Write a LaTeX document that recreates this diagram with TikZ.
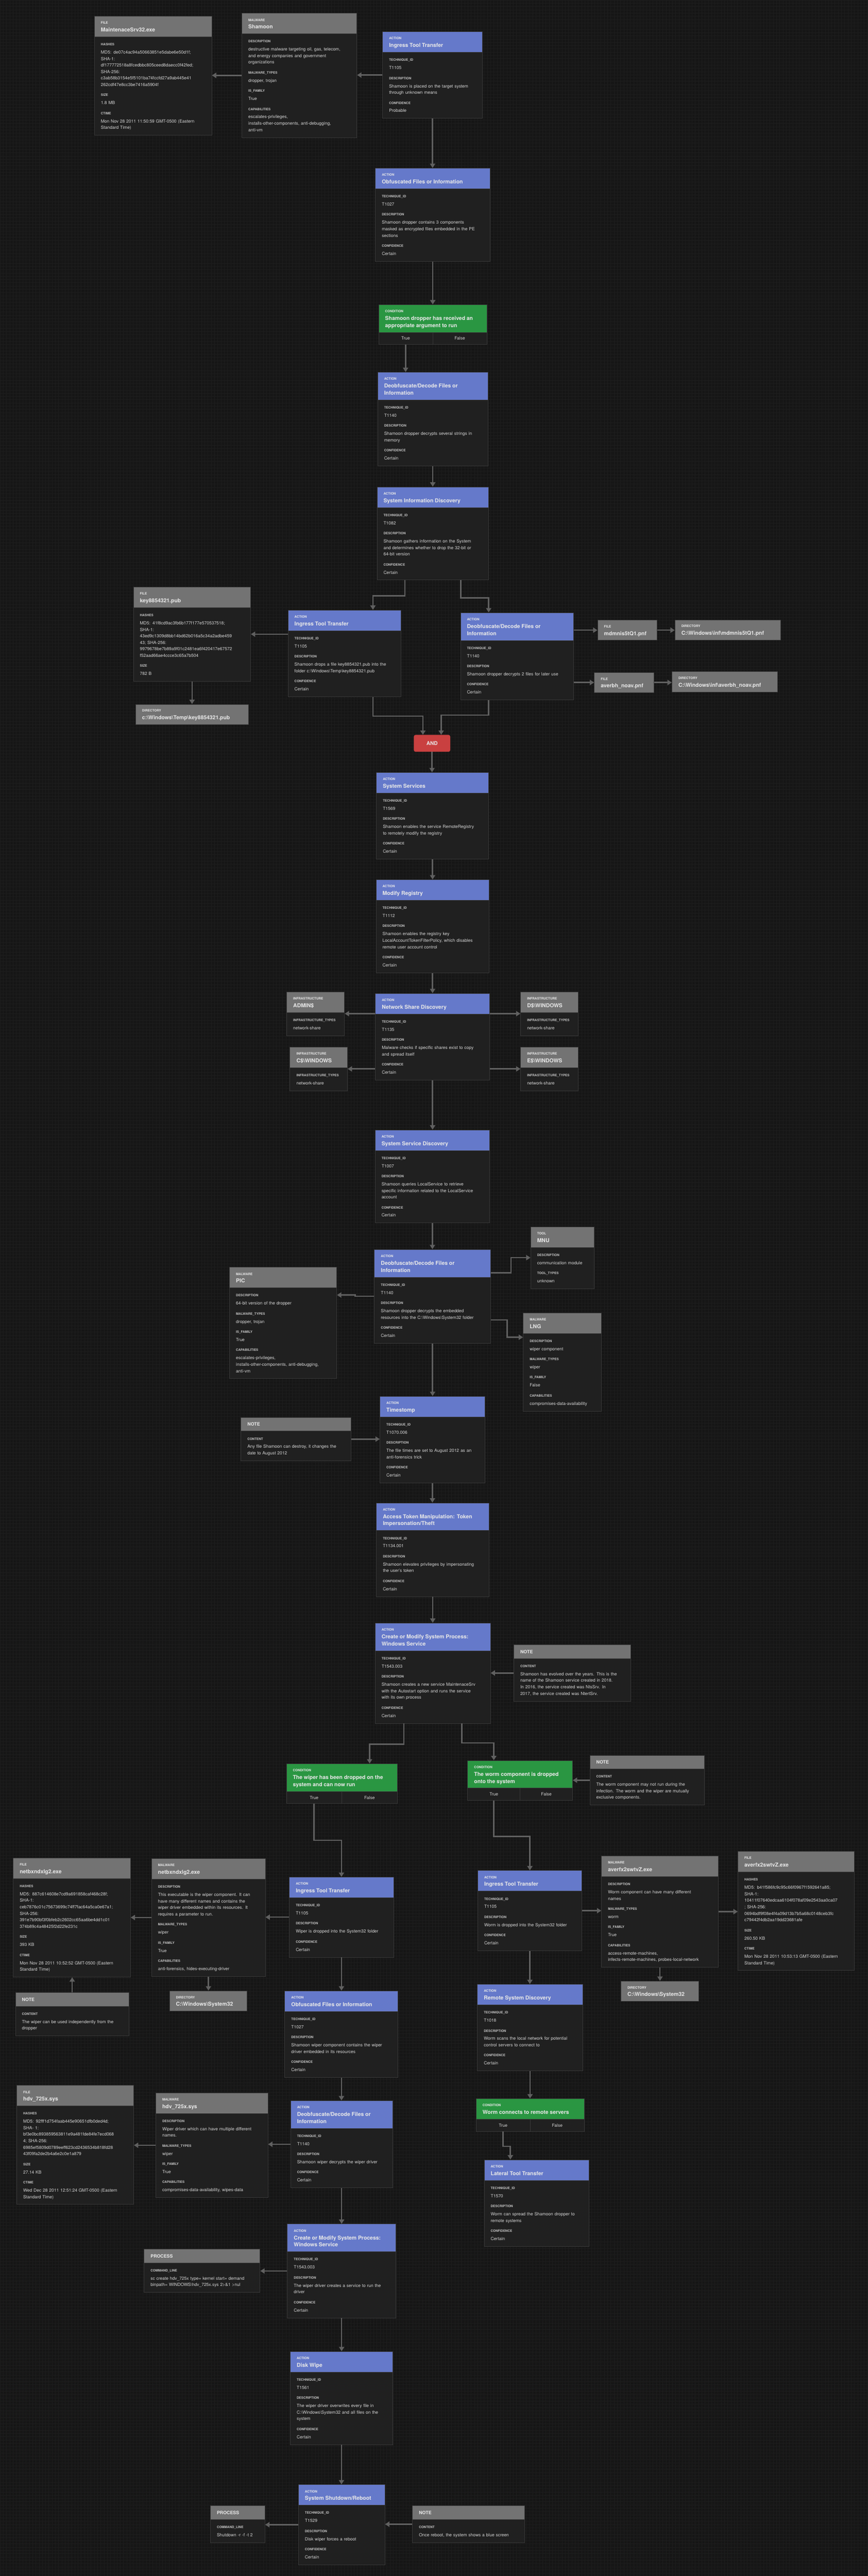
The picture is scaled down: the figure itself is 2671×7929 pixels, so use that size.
\documentclass[tikz,border=0pt]{standalone}
\usepackage{fontspec}
\setmainfont{TeX Gyre Heros}
\usetikzlibrary{shapes.multipart,arrows.meta,calc}

\setlength{\parindent}{0pt}
\setlength{\parskip}{0pt}

\definecolor{bgc}{RGB}{22,22,22}
\definecolor{gridc}{RGB}{29,29,29}
\definecolor{bodyc}{RGB}{32,32,32}
\definecolor{edgec}{RGB}{56,56,56}
\definecolor{actc}{RGB}{101,121,202}
\definecolor{gryc}{RGB}{115,115,115}
\definecolor{grnc}{RGB}{42,150,66}
\definecolor{redc}{RGB}{201,64,64}
\definecolor{connc}{RGB}{96,96,96}
\definecolor{hdtc}{RGB}{232,232,232}
\definecolor{lblc}{RGB}{196,196,196}
\definecolor{valc}{RGB}{212,212,212}

\newcommand{\bsl}{\textbackslash}
\newcommand{\typ}[1]{{\noindent\fontsize{7.5}{9}\selectfont\bfseries\rule{0pt}{9.55pt}#1\par}}
\newcommand{\ttl}[1]{\vspace{1pt}{\noindent\fontsize{12.4}{16.5}\selectfont\bfseries #1\rule[-3pt]{0pt}{0pt}\par}}
\newcommand{\ntl}[1]{{\noindent\fontsize{10.5}{12}\selectfont\bfseries\rule[-3pt]{0pt}{14.25pt}#1\par}}
\newcommand{\lbl}[1]{{\noindent\fontsize{7.5}{23.1}\selectfont\bfseries\color{lblc}\rule{0pt}{11.75pt}#1\par}}
\newcommand{\val}[1]{\vspace{3.9pt}{\noindent\fontsize{10.1}{15}\selectfont\color{valc}#1\rule[-5.35pt]{0pt}{0pt}\par}}
\newcommand{\tf}{{\noindent\fontsize{10.1}{15}\selectfont\color{valc}\rule[-1.65pt]{0pt}{10.55pt}\hspace*{-15pt}\makebox[\dimexpr0.5\hsize+15pt\relax]{True}\makebox[\dimexpr0.5\hsize+15pt\relax]{False}\par}}

\begin{document}
\begin{tikzpicture}[x=0.75pt,y=0.75pt,yscale=-1,
card/.style={rectangle split, rectangle split parts=2, draw=edgec, line width=1pt, text=hdtc, align=left, anchor=north west, inner xsep=15pt, inner ysep=8.25pt, text width=#1},
actcard/.style={card=#1, rectangle split part fill={actc,bodyc}},
grycard/.style={card=#1, rectangle split part fill={gryc,bodyc}},
cndcard/.style={card=#1, rectangle split part fill={grnc,bodyc}},
tagcard/.style={draw=edgec, line width=1pt, fill=gryc, text=hdtc, align=left, anchor=north west, inner xsep=15pt, inner ysep=8.25pt, text width=#1},
andbox/.style={fill=redc, rounded corners=4pt, minimum width=84pt, minimum height=39pt, text=hdtc, font=\fontsize{12}{14}\selectfont\bfseries},
conn/.style={draw=connc, line width=3pt, -{Triangle[length=10pt,width=12pt]}},
divline/.style={draw=edgec, line width=1pt}]
\useasboundingbox (0,0) rectangle (2671,7929);
%Shape: Background
\fill[bgc] (0,0) rectangle (2671,7929);
\draw[gridc, line width=0.4pt, step=7.5pt] (0,7929) grid (2671,0);

%Shape: Dropper
\node[grycard=240.75pt] (fileA) at (290,49) {\typ{FILE}\ttl{MaintenaceSrv32.exe}
\nodepart{two}\lbl{HASHES}\val{MD5: de07c4ac94a50663851e5dabe6e50d1f;\\SHA-1:\\df177772518a8fcedbbc805ceed8daecc0f42fed;\\SHA-256:\\c3ab58b3154e5f5101ba74fccfd27a9ab445e41\\262cdf47e8cc3be7416a5904f}\lbl{SIZE}\val{1.8 MB}\lbl{CTIME}\val{Mon Nov 28 2011 11:50:59 GMT-0500 (Eastern\\Standard Time)}};
\node[grycard=235.5pt] (malA) at (744,40) {\typ{MALWARE}\ttl{Shamoon}
\nodepart{two}\lbl{DESCRIPTION}\val{destructive malware targeting oil, gas, telecom,\\and energy companies and government\\organizations}\lbl{MALWARE\_TYPES}\val{dropper, trojan}\lbl{IS\_FAMILY}\val{True}\lbl{CAPABILITIES}\val{escalates-privileges,\\installs-other-components, anti-debugging,\\anti-vm}};
\node[actcard=201pt] (ingA) at (1177,97) {\typ{ACTION}\ttl{Ingress Tool Transfer}
\nodepart{two}\lbl{TECHNIQUE\_ID}\val{T1105}\lbl{DESCRIPTION}\val{Shamoon is placed on the target system\\through unknown means}\lbl{CONFIDENCE}\val{Probable}};
\node[actcard=234.75pt] (obfA) at (1155,517) {\typ{ACTION}\ttl{Obfuscated Files or Information}
\nodepart{two}\lbl{TECHNIQUE\_ID}\val{T1027}\lbl{DESCRIPTION}\val{Shamoon dropper contains 3 components\\masked as encrypted files embedded in the PE\\sections}\lbl{CONFIDENCE}\val{Certain}};
\node[cndcard=219.75pt] (condA) at (1165,937) {\typ{CONDITION}\ttl{Shamoon dropper has received an\\appropriate argument to run}
\nodepart{two}\tf};
\node[actcard=224.25pt] (deobA) at (1162,1145) {\typ{ACTION}\ttl{Deobfuscate/Decode Files or\\Information}
\nodepart{two}\lbl{TECHNIQUE\_ID}\val{T1140}\lbl{DESCRIPTION}\val{Shamoon dropper decrypts several strings in\\memory}\lbl{CONFIDENCE}\val{Certain}};
\node[actcard=227.25pt] (sinfo) at (1160,1498) {\typ{ACTION}\ttl{System Information Discovery}
\nodepart{two}\lbl{TECHNIQUE\_ID}\val{T1082}\lbl{DESCRIPTION}\val{Shamoon gathers information on the System\\and determines whether to drop the 32-bit or\\64-bit version}\lbl{CONFIDENCE}\val{Certain}};

%Shape: Dropped files
\node[grycard=240.75pt] (keyF) at (410,1806) {\typ{FILE}\ttl{key8854321.pub}
\nodepart{two}\lbl{HASHES}\val{MD5: 41f8cd9ac3fb6b177f177e570537518;\\SHA-1:\\43ed9c1309d8bb14bd62b016a5c34a2adbe459\\43; SHA-256:\\9979678be7b89a9f01c2481ea6f420417e67572\\f52aad66ae4ccce3c65a7b504}\lbl{SIZE}\val{782 B}};
\node[tagcard=231pt] (keyD) at (417,2167) {\typ{DIRECTORY}\ttl{c:\bsl{}Windows\bsl{}Temp\bsl{}key8854321.pub}};
\node[actcard=231pt] (ingB) at (886,1877) {\typ{ACTION}\ttl{Ingress Tool Transfer}
\nodepart{two}\lbl{TECHNIQUE\_ID}\val{T1105}\lbl{DESCRIPTION}\val{Shamoon drops a file key8854321.pub into the\\folder c:\bsl{}Windows\bsl{}Temp\bsl{}key8854321.pub}\lbl{CONFIDENCE}\val{Certain}};
\node[actcard=231pt] (deobB) at (1417,1885) {\typ{ACTION}\ttl{Deobfuscate/Decode Files or\\Information}
\nodepart{two}\lbl{TECHNIQUE\_ID}\val{T1140}\lbl{DESCRIPTION}\val{Shamoon dropper decrypts 2 files for later use}\lbl{CONFIDENCE}\val{Certain}};
\node[tagcard=107.25pt] (pnfA) at (1839,1908) {\typ{FILE}\ttl{mdmnis5tQ1.pnf}};
\node[tagcard=214.5pt] (pnfAd) at (2077,1907) {\typ{DIRECTORY}\ttl{C:\bsl{}Windows\bsl{}inf\bsl{}mdmnis5tQ1.pnf}};
\node[tagcard=108pt] (pnfB) at (1829,2069) {\typ{FILE}\ttl{averbh\_noav.pnf}};
\node[tagcard=213.75pt] (pnfBd) at (2068,2067) {\typ{DIRECTORY}\ttl{C:\bsl{}Windows\bsl{}inf\bsl{}averbh\_noav.pnf}};
\node[andbox] (andA) at (1330,2288) {AND};

%Shape: Services and shares
\node[actcard=229.5pt] (ssvc) at (1158,2377) {\typ{ACTION}\ttl{System Services}
\nodepart{two}\lbl{TECHNIQUE\_ID}\val{T1569}\lbl{DESCRIPTION}\val{Shamoon enables the service RemoteRegistry\\to remotely modify the registry}\lbl{CONFIDENCE}\val{Certain}};
\node[actcard=231pt] (mreg) at (1157,2707) {\typ{ACTION}\ttl{Modify Registry}
\nodepart{two}\lbl{TECHNIQUE\_ID}\val{T1112}\lbl{DESCRIPTION}\val{Shamoon enables the registry key\\LocalAccountTokenFilterPolicy, which disables\\remote user account control}\lbl{CONFIDENCE}\val{Certain}};
\node[actcard=234pt] (nsd) at (1155,3057) {\typ{ACTION}\ttl{Network Share Discovery}
\nodepart{two}\lbl{TECHNIQUE\_ID}\val{T1135}\lbl{DESCRIPTION}\val{Malware checks if specific shares exist to copy\\and spread itself}\lbl{CONFIDENCE}\val{Certain}};
\node[grycard=103.5pt] (infA) at (882,3052) {\typ{INFRASTRUCTURE}\ttl{ADMIN\$}
\nodepart{two}\lbl{INFRASTRUCTURE\_TYPES}\val{network-share}};
\node[grycard=102.75pt] (infC) at (892,3222) {\typ{INFRASTRUCTURE}\ttl{C\$\bsl{}WINDOWS}
\nodepart{two}\lbl{INFRASTRUCTURE\_TYPES}\val{network-share}};
\node[grycard=103.5pt] (infD) at (1602,3052) {\typ{INFRASTRUCTURE}\ttl{D\$\bsl{}WINDOWS}
\nodepart{two}\lbl{INFRASTRUCTURE\_TYPES}\val{network-share}};
\node[grycard=103.5pt] (infE) at (1602,3222) {\typ{INFRASTRUCTURE}\ttl{E\$\bsl{}WINDOWS}
\nodepart{two}\lbl{INFRASTRUCTURE\_TYPES}\val{network-share}};

%Shape: Resources
\node[actcard=234.75pt] (ssd) at (1154,3477) {\typ{ACTION}\ttl{System Service Discovery}
\nodepart{two}\lbl{TECHNIQUE\_ID}\val{T1007}\lbl{DESCRIPTION}\val{Shamoon queries LocalService to retrieve\\specific information related to the LocalService\\account}\lbl{CONFIDENCE}\val{Certain}};
\node[actcard=238.5pt] (deobC) at (1152,3845) {\typ{ACTION}\ttl{Deobfuscate/Decode Files or\\Information}
\nodepart{two}\lbl{TECHNIQUE\_ID}\val{T1140}\lbl{DESCRIPTION}\val{Shamoon dropper decrypts the embedded\\resources into the C:\bsl{}Windows\bsl{}System32 folder}\lbl{CONFIDENCE}\val{Certain}};
\node[grycard=116.25pt] (toolM) at (1633,3775) {\typ{TOOL}\ttl{MNU}
\nodepart{two}\lbl{DESCRIPTION}\val{\mbox{communication module}}\lbl{TOOL\_TYPES}\val{unknown}};
\node[grycard=217.5pt] (malP) at (706,3900) {\typ{MALWARE}\ttl{PIC}
\nodepart{two}\lbl{DESCRIPTION}\val{64-bit version of the dropper}\lbl{MALWARE\_TYPES}\val{dropper, trojan}\lbl{IS\_FAMILY}\val{True}\lbl{CAPABILITIES}\val{escalates-privileges,\\installs-other-components, anti-debugging,\\anti-vm}};
\node[grycard=150.75pt] (malL) at (1610,4040) {\typ{MALWARE}\ttl{LNG}
\nodepart{two}\lbl{DESCRIPTION}\val{wiper component}\lbl{MALWARE\_TYPES}\val{wiper}\lbl{IS\_FAMILY}\val{False}\lbl{CAPABILITIES}\val{\mbox{compromises-data-availability}}};
\node[grycard=224.25pt] (noteA) at (741,4362) {\ntl{NOTE}
\nodepart{two}\lbl{CONTENT}\val{Any file Shamoon can destroy, it changes the\\date to August 2012}};
\node[actcard=212.25pt] (tstomp) at (1169,4297) {\typ{ACTION}\ttl{Timestomp}
\nodepart{two}\lbl{TECHNIQUE\_ID}\val{T1070.006}\lbl{DESCRIPTION}\val{The file times are set to August 2012 as an\\anti-forensics trick}\lbl{CONFIDENCE}\val{Certain}};
\node[actcard=230.25pt] (atok) at (1158,4625) {\typ{ACTION}\ttl{Access Token Manipulation: Token\\Impersonation/Theft}
\nodepart{two}\lbl{TECHNIQUE\_ID}\val{T1134.001}\lbl{DESCRIPTION}\val{Shamoon elevates privileges by impersonating\\the user's token}\lbl{CONFIDENCE}\val{Certain}};
\node[actcard=236.25pt] (cmodA) at (1154,4995) {\typ{ACTION}\ttl{Create or Modify System Process:\\Windows Service}
\nodepart{two}\lbl{TECHNIQUE\_ID}\val{T1543.003}\lbl{DESCRIPTION}\val{Shamoon creates a new service MaintenaceSrv\\with the Autostart option and runs the service\\with its own process}\lbl{CONFIDENCE}\val{Certain}};
\node[grycard=240pt] (noteB) at (1581,5062) {\ntl{NOTE}
\nodepart{two}\lbl{CONTENT}\val{Shamoon has evolved over the years. This is the\\name of the Shamoon service created in 2018.\\In 2016, the service created was NtsSrv. In\\2017, the service created was NtertSrv.}};

%Shape: Branches
\node[cndcard=225.75pt] (condW) at (881,5428) {\typ{CONDITION}\ttl{The wiper has been dropped on the\\system and can now run}
\nodepart{two}\tf};
\node[cndcard=212.25pt] (condM) at (1439,5418) {\typ{CONDITION}\ttl{The worm component is dropped\\onto the system}
\nodepart{two}\tf};
\node[grycard=234pt] (noteC) at (1815,5402) {\ntl{NOTE}
\nodepart{two}\lbl{CONTENT}\val{The worm component may not run during the\\infection. The worm and the wiper are mutually\\exclusive components.}};

%Shape: Wiper
\node[grycard=240.75pt] (fileN) at (40,5718) {\typ{FILE}\ttl{netbxndxlg2.exe}
\nodepart{two}\lbl{HASHES}\val{MD5: 887c614608e7cd9a691858caf468c28f;\\SHA-1:\\ceb7876c01c75673699c74ff7fac64a5ca0e67a1;\\SHA-256:\\391e7b90bf3f0bfeb2c2602cc65aa6be4dd1c01\\374b89c4a48425f2d22fe231c}\lbl{SIZE}\val{393 KB}\lbl{CTIME}\val{Mon Nov 28 2011 10:52:52 GMT-0500 (Eastern\\Standard Time)}};
\node[grycard=232.5pt] (malN) at (466,5720) {\typ{MALWARE}\ttl{netbxndxlg2.exe}
\nodepart{two}\lbl{DESCRIPTION}\val{This executable is the wiper component. It can\\have many different names and contains the\\wiper driver embedded within its resources. It\\requires a parameter to run.}\lbl{MALWARE\_TYPES}\val{wiper}\lbl{IS\_FAMILY}\val{True}\lbl{CAPABILITIES}\val{anti-forensics, hides-executing-driver}};
\node[actcard=210.75pt] (ingC) at (890,5777) {\typ{ACTION}\ttl{Ingress Tool Transfer}
\nodepart{two}\lbl{TECHNIQUE\_ID}\val{T1105}\lbl{DESCRIPTION}\val{Wiper is dropped into the System32 folder}\lbl{CONFIDENCE}\val{Certain}};
\node[grycard=231.75pt] (noteD) at (47,6132) {\ntl{NOTE}
\nodepart{two}\lbl{CONTENT}\val{The wiper can be used independently from the\\dropper}};
\node[tagcard=149.25pt] (dirN) at (521,6127) {\typ{DIRECTORY}\ttl{C:\bsl{}Windows\bsl{}System32}};
\node[actcard=231.75pt] (obfB) at (876,6127) {\typ{ACTION}\ttl{Obfuscated Files or Information}
\nodepart{two}\lbl{TECHNIQUE\_ID}\val{T1027}\lbl{DESCRIPTION}\val{Shamoon wiper component contains the wiper\\driver embedded in its resources}\lbl{CONFIDENCE}\val{Certain}};
\node[grycard=240pt] (fileH) at (51,6418) {\typ{FILE}\ttl{hdv\_725x.sys}
\nodepart{two}\lbl{HASHES}\val{MD5: 92fff1d754faab445e90651dfb0ded4d;\\SHA- 1:\\bf3e0bc893859563811e9a481fde84fe7ecd068\\4; SHA-256:\\6985ef5809d0789eeff623cd2436534b818fd28\\43f09fa2de2b4a6e2c0e1a879}\lbl{SIZE}\val{27.14 KB}\lbl{CTIME}\val{Wed Dec 28 2011 12:51:24 GMT-0500 (Eastern\\Standard Time)}};
\node[grycard=228.75pt] (malH) at (479,6441) {\typ{MALWARE}\ttl{hdv\_725x.sys}
\nodepart{two}\lbl{DESCRIPTION}\val{Wiper driver which can have multiple different\\names.}\lbl{MALWARE\_TYPES}\val{wiper}\lbl{IS\_FAMILY}\val{True}\lbl{CAPABILITIES}\val{compromises-data-availability, wipes-data}};
\node[actcard=205.5pt] (deobD) at (894,6465) {\typ{ACTION}\ttl{Deobfuscate/Decode Files or\\Information}
\nodepart{two}\lbl{TECHNIQUE\_ID}\val{T1140}\lbl{DESCRIPTION}\val{Shamoon wiper decrypts the wiper driver}\lbl{CONFIDENCE}\val{Certain}};
\node[actcard=220.5pt] (cmodB) at (884,6845) {\typ{ACTION}\ttl{Create or Modify System Process:\\Windows Service}
\nodepart{two}\lbl{TECHNIQUE\_ID}\val{T1543.003}\lbl{DESCRIPTION}\val{The wiper driver creates a service to run the\\driver}\lbl{CONFIDENCE}\val{Certain}};
\node[grycard=237.75pt] (procA) at (443,6922) {\ntl{PROCESS}
\nodepart{two}\lbl{COMMAND\_LINE}\val{sc create hdv\_725x type= kernel start= demand\\binpath= WINDOWS\bsl{}hdv\_725x.sys 2>\&1 >nul}};
\node[actcard=206.25pt] (dwipe) at (893,7237) {\typ{ACTION}\ttl{Disk Wipe}
\nodepart{two}\lbl{TECHNIQUE\_ID}\val{T1561}\lbl{DESCRIPTION}\val{The wiper driver overwrites every file in\\C:\bsl{}Windows\bsl{}System32 and all files on the\\system}\lbl{CONFIDENCE}\val{Certain}};
\node[actcard=169.5pt] (shut) at (918,7647) {\typ{ACTION}\ttl{System Shutdown/Reboot}
\nodepart{two}\lbl{TECHNIQUE\_ID}\val{T1529}\lbl{DESCRIPTION}\val{Disk wiper forces a reboot}\lbl{CONFIDENCE}\val{Certain}};
\node[grycard=96pt] (procB) at (647,7712) {\ntl{PROCESS}
\nodepart{two}\lbl{COMMAND\_LINE}\val{\mbox{Shutdown -r -f -t 2}}};
\node[grycard=228.75pt] (noteE) at (1269,7712) {\ntl{NOTE}
\nodepart{two}\lbl{CONTENT}\val{Once reboot, the system shows a blue screen}};

%Shape: Worm
\node[actcard=210.75pt] (ingD) at (1470,5757) {\typ{ACTION}\ttl{Ingress Tool Transfer}
\nodepart{two}\lbl{TECHNIQUE\_ID}\val{T1105}\lbl{DESCRIPTION}\val{Worm is dropped into the System32 folder}\lbl{CONFIDENCE}\val{Certain}};
\node[grycard=240pt] (malW) at (1851,5712) {\typ{MALWARE}\ttl{averfx2swtvZ.exe}
\nodepart{two}\lbl{DESCRIPTION}\val{Worm component can have many different\\names}\lbl{MALWARE\_TYPES}\val{worm}\lbl{IS\_FAMILY}\val{True}\lbl{CAPABILITIES}\val{access-remote-machines,\\infects-remote-machines, probes-local-network}};
\node[grycard=239.25pt] (fileW) at (2271,5698) {\typ{FILE}\ttl{averfx2swtvZ.exe}
\nodepart{two}\lbl{HASHES}\val{MD5: b41f586fc9c95c66f0967f1592641a85;\\SHA-1:\\10411f07640edcaa6104f078af09e2543aa0ca07\\; SHA-256:\\0694bdf9f08e4f4a09d13b7b5a68c0148ceb3fc\\c79442f4db2aa19dd23681afe}\lbl{SIZE}\val{260.50 KB}\lbl{CTIME}\val{Mon Nov 28 2011 10:53:13 GMT-0500 (Eastern\\Standard Time)}};
\node[tagcard=150pt] (dirW) at (1911,6097) {\typ{DIRECTORY}\ttl{C:\bsl{}Windows\bsl{}System32}};
\node[actcard=213pt] (rsd) at (1469,6107) {\typ{ACTION}\ttl{Remote System Discovery}
\nodepart{two}\lbl{TECHNIQUE\_ID}\val{T1018}\lbl{DESCRIPTION}\val{Worm scans the local network for potential\\control servers to connect to}\lbl{CONFIDENCE}\val{Certain}};
\node[cndcard=219.75pt] (condR) at (1465,6459) {\typ{CONDITION}\ttl{Worm connects to remote servers}
\nodepart{two}\tf};
\node[actcard=212.25pt] (ltt) at (1490,6647) {\typ{ACTION}\ttl{Lateral Tool Transfer}
\nodepart{two}\lbl{TECHNIQUE\_ID}\val{T1570}\lbl{DESCRIPTION}\val{Worm can spread the Shamoon dropper to\\remote systems}\lbl{CONFIDENCE}\val{Certain}};

%Straight Lines: True | False dividers
\draw[divline] (condA.one split) -- (condA.south);
\draw[divline] (condW.one split) -- (condW.south);
\draw[divline] (condM.one split) -- (condM.south);
\draw[divline] (condR.one split) -- (condR.south);

\coordinate (cAt) at ($(condA.south west)!.25!(condA.south east)$);
\coordinate (cWt) at ($(condW.south west)!.25!(condW.south east)$);
\coordinate (cMt) at ($(condM.south west)!.25!(condM.south east)$);
\coordinate (cRt) at ($(condR.south west)!.25!(condR.south east)$);

%Straight Lines: dropper
\draw[conn] (ingA.west) -- (ingA.west -| malA.east);
\draw[conn] (malA.west) -- (malA.west -| fileA.east);
\draw[conn] (ingA.south) -- (ingA.south |- obfA.north);
\draw[conn] (obfA.south) -- (obfA.south |- condA.north);
\draw[conn] (cAt) -- (cAt |- deobA.north);
\draw[conn] (deobA.south) -- (deobA.south |- sinfo.north);
\draw[conn] ($(sinfo.south west)!.25!(sinfo.south east)$) -- ++(0,48) -| ($(ingB.north west)!.75!(ingB.north east)$);
\draw[conn] ($(sinfo.south west)!.75!(sinfo.south east)$) -- ++(0,54) -| ($(deobB.north west)!.25!(deobB.north east)$);
\draw[conn] (ingB.west |- keyF.east) -- (keyF.east);
\draw[conn] (keyF.south) -- (keyF.south |- keyD.north);
\draw[conn] (deobB.east |- pnfA.west) -- (pnfA.west);
\draw[conn] (pnfA.east) -- (pnfA.east -| pnfAd.west);
\draw[conn] (deobB.east |- pnfB.west) -- (pnfB.west);
\draw[conn] (pnfB.east) -- (pnfB.east -| pnfBd.west);
\draw[conn] ($(ingB.south west)!.75!(ingB.south east)$) -- ++(0,59) -| ($(andA.north west)!.25!(andA.north east)$);
\draw[conn] ($(deobB.south west)!.25!(deobB.south east)$) -- ++(0,46) -| ($(andA.north west)!.75!(andA.north east)$);
\draw[conn] (andA.south) -- (andA.south |- ssvc.north);
\draw[conn] (ssvc.south) -- (ssvc.south |- mreg.north);
\draw[conn] (mreg.south) -- (mreg.south |- nsd.north);
\draw[conn] (nsd.west |- infA.east) -- (infA.east);
\draw[conn] (nsd.west |- infC.east) -- (infC.east);
\draw[conn] (nsd.east |- infD.west) -- (infD.west);
\draw[conn] (nsd.east |- infE.west) -- (infE.west);
\draw[conn] (nsd.south) -- (nsd.south |- ssd.north);
\draw[conn] (ssd.south) -- (ssd.south |- deobC.north);
\draw[conn] ($(deobC.north east)!.25!(deobC.south east)$) -- ++(62,0) |- (toolM.west);
\draw[conn] (deobC.west) -- ++(-59,0) |- ($(malP.north east)!.25!(malP.south east)$);
\draw[conn] ($(deobC.north east)!.75!(deobC.south east)$) -- ++(50,0) |- ($(malL.north west)!.25!(malL.south west)$);
\draw[conn] (deobC.south) -- (deobC.south |- tstomp.north);
\draw[conn] (noteA.east) -- (noteA.east -| tstomp.west);
\draw[conn] (tstomp.south) -- (tstomp.south |- atok.north);
\draw[conn] (atok.south) -- (atok.south |- cmodA.north);
\draw[conn] (noteB.west) -- (noteB.west -| cmodA.east);
\draw[conn] ($(cmodA.south west)!.25!(cmodA.south east)$) -- ++(0,64) -| ($(condW.north west)!.75!(condW.north east)$);
\draw[conn] ($(cmodA.south west)!.75!(cmodA.south east)$) -- ++(0,60) -| ($(condM.north west)!.25!(condM.north east)$);
\draw[conn] (noteC.west) -- (noteC.west -| condM.east);

%Straight Lines: wiper
\draw[conn] (cWt) -- ++(0,112) -| (ingC.north);
\draw[conn] (ingC.west) -- (ingC.west -| malN.east);
\draw[conn] (malN.west) -- (malN.west -| fileN.east);
\draw[conn] (noteD.north) -- (noteD.north |- fileN.south);
\draw[conn] (malN.south) -- (malN.south |- dirN.north);
\draw[conn] (ingC.south) -- (ingC.south |- obfB.north);
\draw[conn] (obfB.south) -- (obfB.south |- deobD.north);
\draw[conn] (deobD.west) -- (deobD.west -| malH.east);
\draw[conn] (malH.west) -- (malH.west -| fileH.east);
\draw[conn] (deobD.south) -- (deobD.south |- cmodB.north);
\draw[conn] (cmodB.west) -- (cmodB.west -| procA.east);
\draw[conn] (cmodB.south) -- (cmodB.south |- dwipe.north);
\draw[conn] (dwipe.south) -- (dwipe.south |- shut.north);
\draw[conn] (shut.west) -- (shut.west -| procB.east);
\draw[conn] (noteE.west) -- (noteE.west -| shut.east);

%Straight Lines: worm
\draw[conn] (cMt) -- ++(0,110) -| (ingD.north);
\draw[conn] (ingD.east) -- (ingD.east -| malW.west);
\draw[conn] (malW.east) -- (malW.east -| fileW.west);
\draw[conn] (malW.south) -- (malW.south |- dirW.north);
\draw[conn] (ingD.south) -- (ingD.south |- rsd.north);
\draw[conn] (rsd.south) -- (rsd.south |- condR.north);
\draw[conn] (cRt) -- ++(0,45) -| ($(ltt.north west)!.25!(ltt.north east)$);

\end{tikzpicture}
\end{document}
